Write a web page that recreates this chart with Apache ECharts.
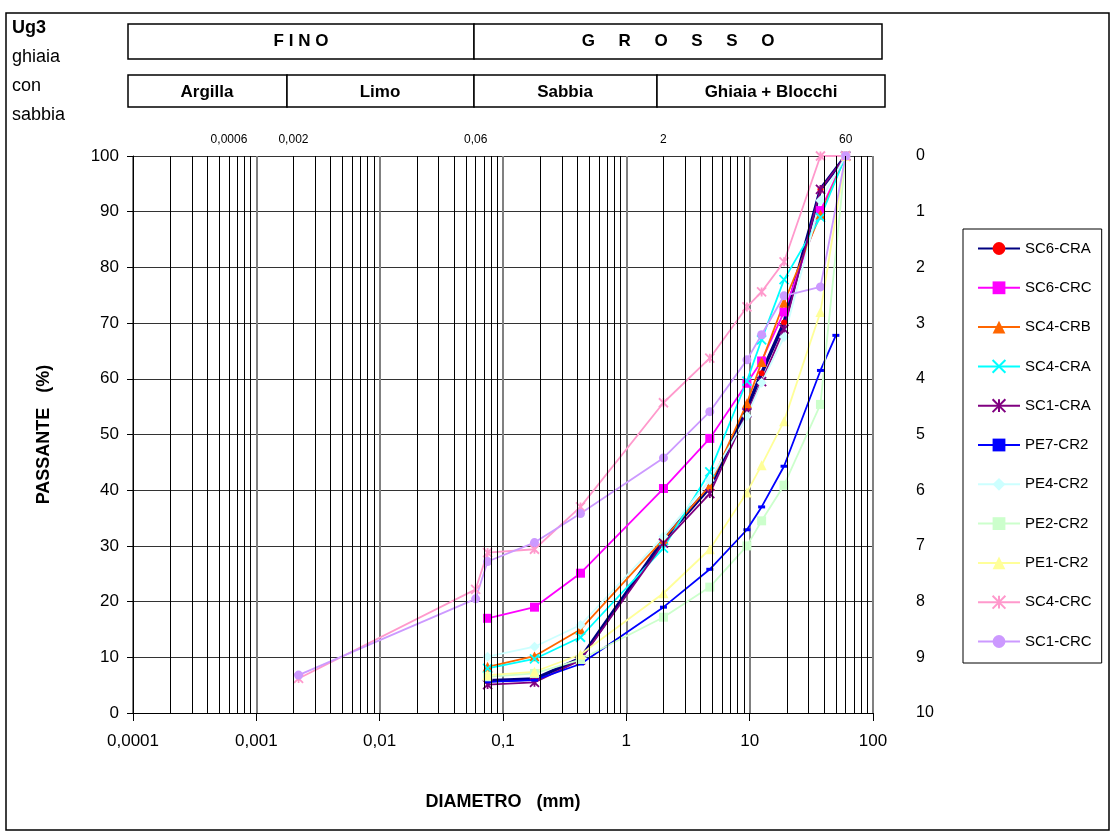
<!DOCTYPE html>
<html>
<head>
<meta charset="utf-8">
<title>Ug3 - curve granulometriche</title>
<script src="https://cdn.jsdelivr.net/npm/echarts@6/dist/echarts.min.js"></script>
<style>
html, body { margin: 0; padding: 0; background: #fff; }
#main { width: 1115px; height: 833px; }
</style>
</head>
<body>
<div id="main"></div>
<script>
// aperture dei setacci (mm)
var setacci = [0.075, 0.18, 0.425, 2, 4.75, 9.5, 12.5, 19, 37.5, 60];
var setacciPE7 = [0.075, 0.18, 0.425, 2, 4.75, 9.5, 12.5, 19, 37.5, 50];
var setacciFini = [0.0022, 0.06, 0.075, 0.18, 0.425, 2, 4.75, 9.5, 12.5, 19, 37.5, 60];

// passante (%)
var sc6Cra = [5.8, 6.1, 9.8, 31.1, 40.5, 54.7, 61.0, 70.1, 94.0, 100];
var sc6Crc = [17.0, 19.0, 25.1, 40.3, 49.3, 59.2, 63.2, 72.0, 90.2, 100];
var sc4Crb = [8.3, 10.2, 15.0, 31.2, 40.8, 55.6, 63.0, 73.7, 89.5, 100];
var sc4Cra = [8.0, 9.7, 13.6, 29.6, 43.3, 59.6, 67.0, 77.8, 89.0, 100];
var sc1Cra = [5.1, 5.5, 9.5, 30.5, 39.4, 53.9, 59.5, 68.9, 94.0, 100];
var pe7Cr2 = [5.6, 5.9, 8.8, 19.0, 25.8, 32.9, 37.0, 44.3, 61.5, 67.8];
var pe4Cr2 = [10.1, 11.9, 15.8, 31.7, 41.8, 53.3, 59.3, 67.5, 92.0, 100];
var pe2Cr2 = [6.5, 7.1, 9.6, 17.2, 22.6, 30.0, 34.5, 40.9, 55.4, 100];
var pe1Cr2 = [6.8, 7.4, 10.5, 21.5, 29.4, 39.6, 44.5, 52.4, 72.0, 100];
var sc4Crc = [6.2, 22.2, 28.8, 29.4, 37.0, 55.7, 63.7, 72.9, 75.6, 81.0, 100, 100];
var sc1Crc = [6.8, 20.5, 27.2, 30.6, 35.8, 45.8, 54.1, 63.4, 67.9, 74.9, 76.5, 100];

// diametri di riferimento scritti sopra il grafico
var diametriRif = [0.0006, 0.002, 0.06, 2, 60];

var FONT = 'Liberation Sans, Arial, sans-serif';
var CROCE = 'path://M0,0L10,10M10,0L0,10';
var ASTERISCO = 'path://M0,0L10,10M10,0L0,10M5,0L5,10';

function virgola(v) {
    return String(parseFloat(Number(v).toPrecision(6))).replace('.', ',');
}

function coppie(xs, ys) {
    return xs.map(function (x, i) { return [x, ys[i]]; });
}

function serie(nome, xs, ys, colore, simbolo, dim, spessore) {
    var tratto = simbolo === CROCE || simbolo === ASTERISCO;
    return {
        name: nome,
        type: 'line',
        data: coppie(xs, ys),
        symbol: simbolo,
        symbolSize: dim,
        showSymbol: true,
        color: colore,
        lineStyle: { color: colore, width: spessore },
        itemStyle: {
            color: colore,
            borderColor: colore,
            borderWidth: tratto ? 1.8 : 0
        },
        z: 3
    };
}

// linee verticali secondarie della carta logaritmica
var lineeMinori = [];
for (var e = -4; e <= 1; e++) {
    for (var k = 2; k <= 9; k++) {
        lineeMinori.push({ xAxis: k * Math.pow(10, e) });
    }
}

var myChart = echarts.init(document.getElementById('main'));

var option = {
    animation: false,
    backgroundColor: '#fff',
    textStyle: { fontFamily: FONT },
    grid: { left: 133, top: 156, width: 740, height: 557 },
    legend: {
        orient: 'vertical',
        left: 963,
        top: 229,
        padding: [12, 10, 14, 14],
        itemWidth: 42,
        itemHeight: 16,
        itemGap: 24.3,
        borderColor: '#000',
        borderWidth: 1,
        textStyle: { fontSize: 15, color: '#000', fontFamily: FONT },
        data: ['SC6-CRA', 'SC6-CRC', 'SC4-CRB', 'SC4-CRA', 'SC1-CRA', 'PE7-CR2',
            'PE4-CR2', 'PE2-CR2', 'PE1-CR2', 'SC4-CRC', 'SC1-CRC']
    },
    xAxis: [
        {
            type: 'log',
            logBase: 10,
            min: 0.0001,
            max: 100,
            name: 'DIAMETRO   (mm)',
            nameLocation: 'middle',
            nameGap: 80,
            nameTextStyle: { fontSize: 18, fontWeight: 'bold', color: '#000', fontFamily: FONT },
            axisLine: { lineStyle: { color: '#000', width: 1 } },
            axisTick: { show: true, length: 8, lineStyle: { color: '#000' } },
            axisLabel: { fontSize: 17, color: '#000', margin: 20, formatter: virgola },
            splitLine: { show: true, lineStyle: { color: '#808080', width: 2 } }
        },
        {
            type: 'log',
            logBase: 10,
            min: 0.0001,
            max: 100,
            position: 'top',
            axisLine: { show: false },
            axisTick: { show: false },
            splitLine: { show: false },
            axisLabel: {
                customValues: diametriRif,
                fontSize: 12,
                color: '#000',
                margin: 10,
                formatter: virgola
            }
        }
    ],
    yAxis: [
        {
            type: 'value',
            min: 0,
            max: 100,
            interval: 10,
            name: 'PASSANTE   (%)',
            nameLocation: 'middle',
            nameGap: 80,
            nameTextStyle: { fontSize: 18, fontWeight: 'bold', color: '#000', fontFamily: FONT },
            axisLine: { show: true, lineStyle: { color: '#000', width: 1 } },
            axisTick: { show: true, length: 6, lineStyle: { color: '#000' } },
            axisLabel: { fontSize: 17, color: '#000', margin: 14 },
            splitLine: { show: true, lineStyle: { color: '#333', width: 1 } }
        },
        {
            type: 'value',
            min: 0,
            max: 10,
            interval: 1,
            inverse: true,
            position: 'right',
            axisLine: { show: false },
            axisTick: { show: false },
            splitLine: { show: false },
            axisLabel: { fontSize: 16, color: '#000', margin: 43 }
        }
    ],
    graphic: [
        { type: 'rect', shape: { x: 6, y: 13, width: 1103, height: 817 }, style: { fill: 'none', stroke: '#000', lineWidth: 1.5 }, silent: true },
        // riga 1: FINO / GROSSO
        { type: 'rect', shape: { x: 128, y: 24, width: 346, height: 35 }, style: { fill: '#fff', stroke: '#000', lineWidth: 1.5 } },
        { type: 'rect', shape: { x: 474, y: 24, width: 408, height: 35 }, style: { fill: '#fff', stroke: '#000', lineWidth: 1.5 } },
        { type: 'text', x: 301, y: 41, style: { text: 'F I N O', font: 'bold 17px ' + FONT, fill: '#000', align: 'center', verticalAlign: 'middle' } },
        { type: 'text', x: 678, y: 41, style: { text: 'G     R     O     S     S     O', font: 'bold 17px ' + FONT, fill: '#000', align: 'center', verticalAlign: 'middle' } },
        // riga 2: classi granulometriche
        { type: 'rect', shape: { x: 128, y: 75, width: 159, height: 32 }, style: { fill: '#fff', stroke: '#000', lineWidth: 1.5 } },
        { type: 'rect', shape: { x: 287, y: 75, width: 187, height: 32 }, style: { fill: '#fff', stroke: '#000', lineWidth: 1.5 } },
        { type: 'rect', shape: { x: 474, y: 75, width: 183, height: 32 }, style: { fill: '#fff', stroke: '#000', lineWidth: 1.5 } },
        { type: 'rect', shape: { x: 657, y: 75, width: 228, height: 32 }, style: { fill: '#fff', stroke: '#000', lineWidth: 1.5 } },
        { type: 'text', x: 207, y: 92, style: { text: 'Argilla', font: 'bold 17px ' + FONT, fill: '#000', align: 'center', verticalAlign: 'middle' } },
        { type: 'text', x: 380, y: 92, style: { text: 'Limo', font: 'bold 17px ' + FONT, fill: '#000', align: 'center', verticalAlign: 'middle' } },
        { type: 'text', x: 565, y: 92, style: { text: 'Sabbia', font: 'bold 17px ' + FONT, fill: '#000', align: 'center', verticalAlign: 'middle' } },
        { type: 'text', x: 771, y: 92, style: { text: 'Ghiaia + Blocchi', font: 'bold 17px ' + FONT, fill: '#000', align: 'center', verticalAlign: 'middle' } },
        // descrizione dell'unità
        { type: 'text', x: 12, y: 28, style: { text: 'Ug3', font: 'bold 18px ' + FONT, fill: '#000', verticalAlign: 'middle' } },
        { type: 'text', x: 12, y: 57, style: { text: 'ghiaia', font: '18px ' + FONT, fill: '#000', verticalAlign: 'middle' } },
        { type: 'text', x: 12, y: 86, style: { text: 'con', font: '18px ' + FONT, fill: '#000', verticalAlign: 'middle' } },
        { type: 'text', x: 12, y: 115, style: { text: 'sabbia', font: '18px ' + FONT, fill: '#000', verticalAlign: 'middle' } }
    ],
    series: [
        {
            type: 'line',
            data: [],
            silent: true,
            z: 1,
            markLine: {
                silent: true,
                precision: 8,
                symbol: ['none', 'none'],
                label: { show: false },
                lineStyle: { color: '#000', width: 1, type: 'solid' },
                data: lineeMinori
            }
        },
        serie('SC6-CRA', setacci, sc6Cra, '#000080', 'circle', 6, 3.5),
        serie('SC6-CRC', setacci, sc6Crc, '#FF00FF', 'rect', 9, 1.8),
        serie('SC4-CRB', setacci, sc4Crb, '#FF6600', 'triangle', 10, 1.8),
        serie('SC4-CRA', setacci, sc4Cra, '#00FFFF', CROCE, 9, 1.8),
        serie('SC1-CRA', setacci, sc1Cra, '#800080', ASTERISCO, 9, 1.8),
        serie('PE7-CR2', setacciPE7, pe7Cr2, '#0000FF', 'rect', [7, 3], 1.8),
        serie('PE4-CR2', setacci, pe4Cr2, '#CCFFFF', 'diamond', 10, 1.8),
        serie('PE2-CR2', setacci, pe2Cr2, '#CCFFCC', 'rect', 9, 1.8),
        serie('PE1-CR2', setacci, pe1Cr2, '#FFFF99', 'triangle', 10, 1.8),
        serie('SC4-CRC', setacciFini, sc4Crc, '#FF99CC', ASTERISCO, 9, 1.8),
        serie('SC1-CRC', setacciFini, sc1Crc, '#CC99FF', 'circle', 9, 1.8)
    ]
};

// il punto rosso della serie SC6-CRA
option.series[1].itemStyle.color = '#FF0000';

myChart.setOption(option);
</script>
</body>
</html>
